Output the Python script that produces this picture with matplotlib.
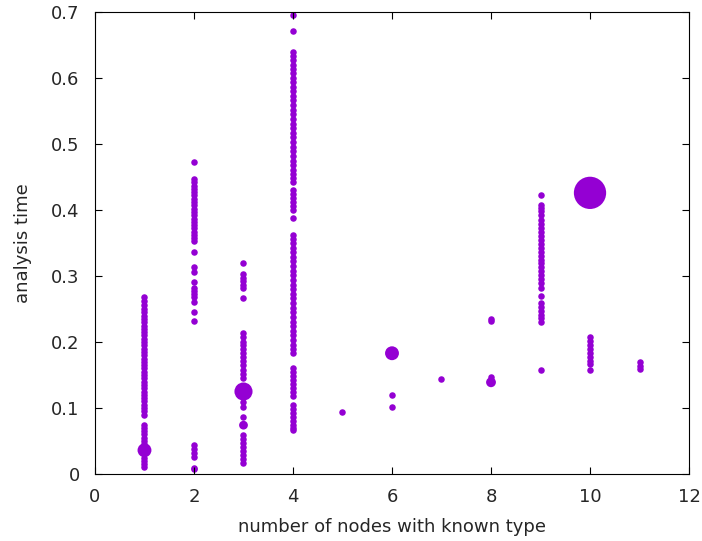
import matplotlib.pyplot as plt
import numpy as np

# analysis time per column (number of nodes with known type)
t1 = [0.268, 0.262, 0.256, 0.25, 0.245, 0.24, 0.235, 0.23, 0.225, 0.22, 0.215, 0.21,
      0.205, 0.2, 0.195, 0.19, 0.185, 0.18, 0.175, 0.17, 0.165, 0.16, 0.155, 0.15,
      0.145, 0.14, 0.135, 0.13, 0.125, 0.12, 0.115, 0.11, 0.105, 0.1, 0.095, 0.09,
      0.075, 0.07, 0.065, 0.06, 0.055, 0.05, 0.045, 0.04, 0.03, 0.025, 0.02, 0.015, 0.01]
t2 = [0.473, 0.447, 0.442, 0.437, 0.432, 0.427, 0.422, 0.417, 0.412, 0.407, 0.402,
      0.397, 0.392, 0.387, 0.382, 0.377, 0.372, 0.367, 0.362, 0.357, 0.353, 0.337,
      0.313, 0.306, 0.291, 0.282, 0.277, 0.273, 0.268, 0.261, 0.246, 0.232,
      0.044, 0.038, 0.032, 0.026, 0.009, 0.007]
t3 = [0.319, 0.303, 0.297, 0.292, 0.286, 0.282, 0.266, 0.213, 0.207, 0.2, 0.195,
      0.189, 0.183, 0.177, 0.171, 0.165, 0.158, 0.152, 0.145, 0.109, 0.102, 0.087,
      0.059, 0.053, 0.047, 0.041, 0.035, 0.029, 0.023, 0.017]
t4 = [0.695, 0.671, 0.639, 0.633, 0.627, 0.62, 0.614, 0.607, 0.6, 0.594, 0.587, 0.58,
      0.573, 0.566, 0.559, 0.552, 0.545, 0.538, 0.531, 0.524, 0.517, 0.51, 0.503,
      0.496, 0.489, 0.482, 0.475, 0.468, 0.461, 0.455, 0.448, 0.442, 0.43, 0.424,
      0.418, 0.412, 0.406, 0.4, 0.388, 0.362, 0.356, 0.35, 0.343, 0.336, 0.329,
      0.322, 0.315, 0.308, 0.301, 0.294, 0.287, 0.28, 0.273, 0.266, 0.259, 0.252,
      0.245, 0.238, 0.231, 0.224, 0.217, 0.21, 0.203, 0.196, 0.189, 0.183, 0.16,
      0.154, 0.148, 0.142, 0.136, 0.13, 0.124, 0.118, 0.105, 0.099, 0.093, 0.087,
      0.081, 0.075, 0.069, 0.066]
t5 = [0.094]
t6 = [0.12, 0.102]
t7 = [0.144]
t8 = [0.235, 0.232, 0.147]
t9 = [0.423, 0.408, 0.403, 0.398, 0.392, 0.385, 0.379, 0.373, 0.367, 0.361, 0.355,
      0.349, 0.343, 0.337, 0.331, 0.325, 0.319, 0.313, 0.307, 0.301, 0.295, 0.289,
      0.282, 0.27, 0.259, 0.253, 0.247, 0.241, 0.236, 0.23, 0.157]
t10 = [0.208, 0.202, 0.196, 0.19, 0.184, 0.178, 0.172, 0.166, 0.158]
t11 = [0.169, 0.164, 0.159]

columns = [t1, t2, t3, t4, t5, t6, t7, t8, t9, t10, t11]

# points with many repeated runs (drawn bigger)
big_x = [1, 3, 3, 6, 8, 10]
big_y = [0.036, 0.125, 0.074, 0.183, 0.139, 0.426]
big_s = [100, 170, 40, 100, 50, 540]

col = '#9400D3'

fig = plt.figure(figsize=(7.02, 5.41), dpi=100)
ax = fig.add_axes([0.1353, 0.1238, 0.8462, 0.854])

for i, ys in enumerate(columns):
    ax.scatter([i + 1] * len(ys), ys, s=22, color=col, marker='o', linewidths=0)
ax.scatter(big_x, big_y, s=big_s, color=col, marker='o', linewidths=0)

ax.set_xlim(0, 12)
ax.set_ylim(0, 0.7)
ax.set_xticks(np.arange(0, 13, 2))
ax.set_yticks(np.arange(0, 0.71, 0.1))
ax.set_yticklabels(['0', '0.1', '0.2', '0.3', '0.4', '0.5', '0.6', '0.7'])
ax.tick_params(direction='in', length=5, top=True, right=True,
               labelsize=13, labelcolor='#262626')
ax.tick_params(axis='y', pad=11)
ax.tick_params(axis='x', pad=10)
ax.set_xlabel('number of nodes with known type', fontsize=13, color='#262626', labelpad=9)
ax.set_ylabel('analysis time', fontsize=13, color='#262626', labelpad=14)

fig.savefig('out.png', dpi=100)
